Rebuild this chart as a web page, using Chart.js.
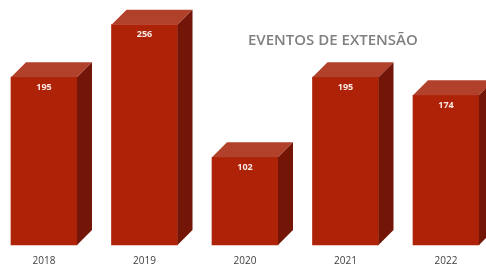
<!DOCTYPE html>
<html><head><meta charset="utf-8">
<script src="https://cdn.jsdelivr.net/npm/chart.js@4.4.1/dist/chart.umd.min.js"></script>
<style>html,body{margin:0;padding:0;background:#fff;}#wrap{width:486px;height:266px;position:relative;}</style>
</head><body><div id="wrap"><canvas id="c" width="486" height="266"></canvas></div>
<script>
const categories = ["2018", "2019", "2020", "2021", "2022"];
const values = [195, 256, 102, 195, 174];
const titleText = "EVENTOS DE EXTENSÃO";

const FRONT = "#ae2208", TOP = "#b2412b", SIDE = "#731507";
const DX = 15, DY = 15;

const bar3d = {
  id: "bar3d",
  afterDatasetsDraw(chart) {
    const ctx = chart.ctx;
    const meta = chart.getDatasetMeta(0);
    meta.data.forEach((b, i) => {
      const p = b.getProps(["x", "y", "base", "width"], true);
      const l = p.x - p.width / 2, r = p.x + p.width / 2, t = p.y, bot = p.base;
      ctx.save();
      ctx.fillStyle = TOP;
      ctx.beginPath();
      ctx.moveTo(l, t); ctx.lineTo(l + DX, t - DY); ctx.lineTo(r + DX, t - DY); ctx.lineTo(r, t);
      ctx.closePath(); ctx.fill();
      ctx.fillStyle = SIDE;
      ctx.beginPath();
      ctx.moveTo(r, t); ctx.lineTo(r + DX, t - DY); ctx.lineTo(r + DX, bot - DY); ctx.lineTo(r, bot);
      ctx.closePath(); ctx.fill();
      ctx.fillStyle = "#fbe9e4";
      ctx.font = "bold 9px 'Open Sans', sans-serif";
      ctx.textAlign = "center"; ctx.textBaseline = "middle";
      ctx.fillText(String(values[i]), p.x, t + 10);
      ctx.restore();
    });
    ctx.save();
    ctx.fillStyle = "#808080";
    ctx.font = "600 15px 'Open Sans', sans-serif";
    ctx.textAlign = "left"; ctx.textBaseline = "middle";
    ctx.fillText(titleText, 248, 41);
    ctx.restore();
  }
};

new Chart(document.getElementById("c"), {
  type: "bar",
  data: { labels: categories, datasets: [{ data: values, backgroundColor: FRONT, barThickness: 66, clip: false, borderWidth: 0 }] },
  options: {
    responsive: false, animation: false, devicePixelRatio: 1,
    layout: { padding: { left: 44, right: 40, top: 4, bottom: 0 } },
    plugins: { legend: { display: false }, tooltip: { enabled: false }, title: { display: false } },
    scales: {
      x: { offset: false, grid: { display: false, drawTicks: false }, border: { display: false },
           afterFit: s => { s.height = 21; },
           ticks: { color: "#404040", font: { size: 10, family: "'Open Sans', sans-serif" }, padding: 10, maxRotation: 0, autoSkip: false } },
      y: { display: false, min: 0, max: 280 }
    }
  },
  plugins: [bar3d]
});
</script></body></html>
